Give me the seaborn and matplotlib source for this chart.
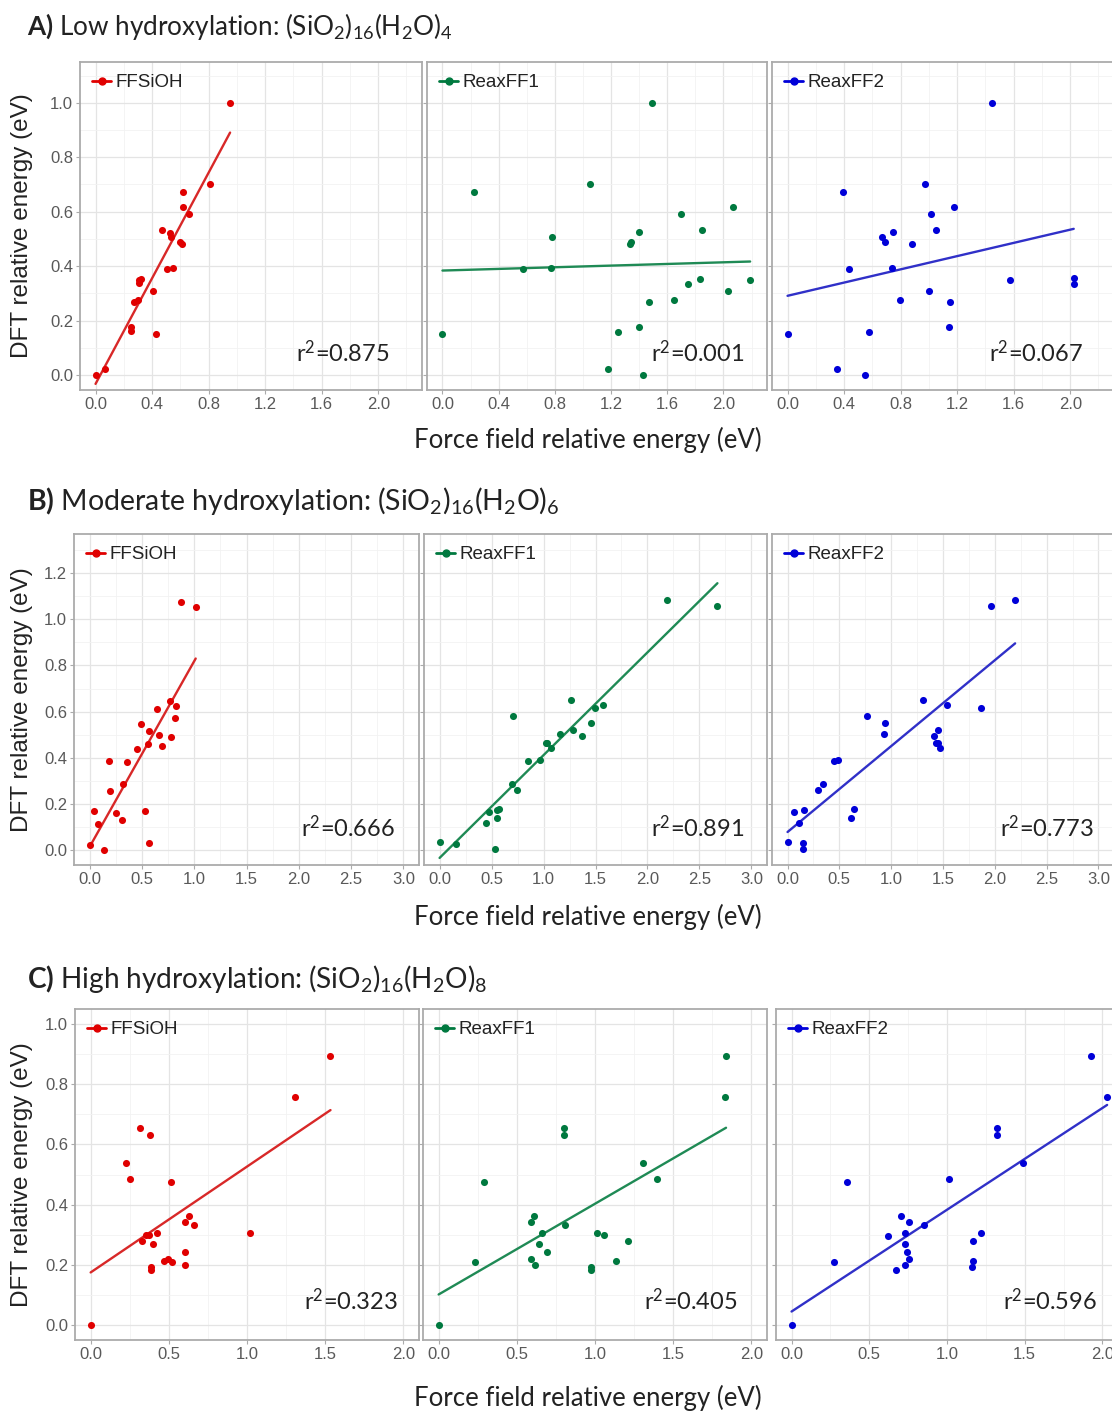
import numpy as np
import pandas as pd
import matplotlib
matplotlib.use("Agg")
import matplotlib.pyplot as plt
import seaborn as sns
from matplotlib.lines import Line2D
from matplotlib.ticker import AutoMinorLocator, FormatStrFormatter

# ---------------- data ----------------
methods = ["FFSiOH", "ReaxFF1", "ReaxFF2"]

# Row A: low hydroxylation
a_ffsioh_x = [0.0, 0.064, 0.25, 0.25, 0.27, 0.298, 0.31, 0.32, 0.305, 0.405, 0.43, 0.47, 0.505, 0.548,
              0.53, 0.536, 0.595, 0.612, 0.62, 0.62, 0.662, 0.81, 0.952]
a_ffsioh_y = [0.0, 0.022, 0.178, 0.16, 0.27, 0.276, 0.35, 0.352, 0.337, 0.309, 0.15, 0.534, 0.389, 0.393,
              0.521, 0.507, 0.487, 0.482, 0.674, 0.617, 0.591, 0.702, 1.0]
a_reax1_x = [0.0, 0.226, 0.573, 0.778, 0.774, 1.05, 1.18, 1.25, 1.335, 1.34, 1.40, 1.40, 1.43, 1.47, 1.49,
             1.65, 1.70, 1.75, 1.83, 1.85, 2.035, 2.07, 2.19]
a_reax1_y = [0.15, 0.674, 0.389, 0.507, 0.393, 0.702, 0.021, 0.157, 0.482, 0.488, 0.524, 0.175, 0.0, 0.27, 1.0,
             0.277, 0.59, 0.335, 0.353, 0.534, 0.308, 0.617, 0.348]
a_reax2_x = [0.0, 0.347, 0.394, 0.4375, 0.549, 0.579, 0.671, 0.69, 0.745, 0.738, 0.796, 0.88, 0.975, 1.0,
             1.016, 1.049, 1.139, 1.15, 1.176, 1.45, 1.576, 2.025, 2.025]
a_reax2_y = [0.15, 0.021, 0.674, 0.389, 0.0, 0.157, 0.507, 0.488, 0.524, 0.393, 0.277, 0.482, 0.702, 0.308,
             0.59, 0.534, 0.175, 0.269, 0.617, 1.0, 0.348, 0.355, 0.335]

# Row B: moderate hydroxylation
b_ffsioh_x = [0.0, 0.038, 0.076, 0.133, 0.184, 0.19, 0.253, 0.307, 0.323, 0.355, 0.45, 0.491, 0.529, 0.564,
              0.564, 0.561, 0.646, 0.659, 0.687, 0.773, 0.782, 0.814, 0.824, 0.877, 1.014]
b_ffsioh_y = [0.022, 0.169, 0.112, 0.0, 0.388, 0.255, 0.159, 0.131, 0.287, 0.382, 0.437, 0.548, 0.17, 0.515,
              0.029, 0.459, 0.61, 0.498, 0.453, 0.646, 0.488, 0.573, 0.625, 1.077, 1.053]
b_reax1_x = [0.0, 0.162, 0.449, 0.477, 0.535, 0.55, 0.55, 0.576, 0.694, 0.71, 0.748, 0.853, 0.97, 1.02,
             1.034, 1.075, 1.155, 1.266, 1.282, 1.371, 1.457, 1.499, 1.569, 2.189, 2.673]
b_reax1_y = [0.033, 0.027, 0.118, 0.166, 0.004, 0.137, 0.173, 0.176, 0.288, 0.58, 0.26, 0.388, 0.392, 0.462,
             0.466, 0.444, 0.502, 0.652, 0.522, 0.493, 0.552, 0.616, 0.627, 1.083, 1.059]
b_reax2_x = [0.0, 0.063, 0.114, 0.151, 0.151, 0.161, 0.297, 0.344, 0.451, 0.483, 0.615, 0.637, 0.77, 0.934,
             0.943, 1.309, 1.413, 1.448, 1.429, 1.454, 1.467, 1.539, 1.87, 1.959, 2.196]
b_reax2_y = [0.033, 0.163, 0.118, 0.029, 0.003, 0.173, 0.26, 0.288, 0.387, 0.392, 0.137, 0.176, 0.58, 0.502,
             0.552, 0.652, 0.493, 0.519, 0.462, 0.466, 0.444, 0.63, 0.616, 1.059, 1.083]

# Row C: high hydroxylation
c_ffsioh_x = [0.0, 0.228, 0.253, 0.316, 0.327, 0.352, 0.371, 0.38, 0.384, 0.384, 0.397, 0.426, 0.468, 0.496,
              0.517, 0.521, 0.601, 0.605, 0.605, 0.631, 0.658, 1.017, 1.308, 1.534]
c_ffsioh_y = [0.0, 0.537, 0.485, 0.656, 0.278, 0.298, 0.298, 0.632, 0.194, 0.183, 0.27, 0.305, 0.213, 0.22,
              0.476, 0.209, 0.341, 0.241, 0.198, 0.361, 0.333, 0.305, 0.756, 0.894]
c_reax1_x = [0.0, 0.234, 0.291, 0.589, 0.589, 0.611, 0.615, 0.645, 0.664, 0.691, 0.802, 0.802, 0.809, 0.972,
             0.977, 1.015, 1.055, 1.136, 1.213, 1.306, 1.394, 1.834, 1.838]
c_reax1_y = [0.0, 0.208, 0.476, 0.341, 0.22, 0.361, 0.198, 0.27, 0.305, 0.241, 0.656, 0.632, 0.333, 0.183,
             0.194, 0.305, 0.298, 0.213, 0.278, 0.537, 0.485, 0.756, 0.894]
c_reax2_x = [0.0, 0.275, 0.356, 0.618, 0.673, 0.707, 0.73, 0.73, 0.73, 0.745, 0.758, 0.758, 0.853, 1.014,
             1.158, 1.168, 1.17, 1.217, 1.321, 1.321, 1.492, 1.928, 2.03]
c_reax2_y = [0.0, 0.208, 0.476, 0.297, 0.183, 0.361, 0.305, 0.27, 0.198, 0.241, 0.341, 0.22, 0.333, 0.485,
             0.194, 0.213, 0.278, 0.305, 0.656, 0.632, 0.537, 0.894, 0.756]

r2_labels = [["0.875", "0.001", "0.067"],
             ["0.666", "0.891", "0.773"],
             ["0.323", "0.405", "0.596"]]

row_titles = [
    (r"$\mathbf{A)}$ Low hydroxylation:", r"$\mathregular{(SiO_2)_{16}(H_2O)_4}$"),
    (r"$\mathbf{B)}$ Moderate hydroxylation:", r"$\mathregular{(SiO_2)_{16}(H_2O)_6}$"),
    (r"$\mathbf{C)}$ High hydroxylation:", r"$\mathregular{(SiO_2)_{16}(H_2O)_8}$"),
]

xs = [[a_ffsioh_x, a_reax1_x, a_reax2_x],
      [b_ffsioh_x, b_reax1_x, b_reax2_x],
      [c_ffsioh_x, c_reax1_x, c_reax2_x]]
ys = [[a_ffsioh_y, a_reax1_y, a_reax2_y],
      [b_ffsioh_y, b_reax1_y, b_reax2_y],
      [c_ffsioh_y, c_reax1_y, c_reax2_y]]

# ---------------- style ----------------
sns.set_theme(style="white")
plt.rcParams["font.family"] = ["Liberation Sans", "DejaVu Sans"]
plt.rcParams["mathtext.fontset"] = "custom"
plt.rcParams["mathtext.rm"] = "Lato"
plt.rcParams["mathtext.bf"] = "Lato:bold"
plt.rcParams["mathtext.it"] = "Lato:italic"
plt.rcParams["mathtext.default"] = "regular"

point_colors = ["#e00000", "#00793f", "#0000d8"]
line_colors = ["#d82828", "#1f8a55", "#3030c8"]

W, H = 1112, 1412
fig = plt.figure(figsize=(W / 100, H / 100), dpi=100)

row_tb = [(62, 390), (534, 865), (1009, 1340)]
col_lr = [[(80, 422), (427, 767), (772, 1114)],
          [(74, 419), (424, 767), (772, 1114)],
          [(75, 419), (423, 767), (776, 1118)]]
xlims = [(-0.11, 2.31), (-0.15, 3.15), (-0.1, 2.1)]
ylims = [(-0.055, 1.15), (-0.065, 1.37), (-0.05, 1.05)]
xsteps = [0.4, 0.5, 0.5]
xmaxtick = [2.0, 3.0, 2.0]
ymaxtick = [1.0, 1.2, 1.0]
r2_pos = [[(0.905, 0.115), (0.935, 0.115), (0.91, 0.115)],
          [(0.93, 0.112), (0.935, 0.112), (0.94, 0.112)],
          [(0.94, 0.12), (0.915, 0.12), (0.94, 0.12)]]
title_y = [27, 501, 979]
title_size = [18.8, 20.5, 20.2]
xlabel_y = [440, 917, 1398]

for r in range(3):
    top, bot = row_tb[r]
    for c in range(3):
        l, rr = col_lr[r][c]
        ax = fig.add_axes([l / W, 1 - bot / H, (rr - l) / W, (bot - top) / H])
        ax.set_facecolor("white")
        df = pd.DataFrame({"ff": xs[r][c], "dft": ys[r][c]})
        sns.regplot(data=df, x="ff", y="dft", ax=ax, ci=None, truncate=True,
                    scatter_kws=dict(s=26, color=point_colors[c], linewidths=0, alpha=1, zorder=3),
                    line_kws=dict(color=line_colors[c], lw=1.7, zorder=2))
        ax.set_xlim(*xlims[r])
        ax.set_ylim(*ylims[r])
        ax.set_xticks(np.arange(0, xmaxtick[r] + 1e-9, xsteps[r]))
        ax.set_yticks(np.arange(0, ymaxtick[r] + 1e-9, 0.2))
        ax.xaxis.set_minor_locator(AutoMinorLocator(2))
        ax.yaxis.set_minor_locator(AutoMinorLocator(2))
        ax.xaxis.set_major_formatter(FormatStrFormatter("%.1f"))
        ax.yaxis.set_major_formatter(FormatStrFormatter("%.1f"))
        ax.grid(which="major", color="#e4e4e4", lw=0.9)
        ax.grid(which="minor", color="#f2f2f2", lw=0.6)
        ax.set_axisbelow(True)
        ax.set_xlabel("")
        ax.set_ylabel("")
        for s in ax.spines.values():
            s.set_color("#ababab")
            s.set_linewidth(1.3)
        ax.tick_params(axis="both", which="major", length=3, width=0.8, color="#ababab",
                       labelsize=12, labelcolor="#595959", pad=2, bottom=True, left=True)
        ax.tick_params(axis="both", which="minor", length=0)
        if c > 0:
            ax.tick_params(axis="y", labelleft=False)
        handle = Line2D([], [], color=point_colors[c], marker="o", markersize=5, lw=2)
        ax.legend(handles=[handle], labels=[methods[c]], loc="upper left", frameon=False,
                  fontsize=13.5, handlelength=1.0, handletextpad=0.25,
                  borderaxespad=0.35, borderpad=0.3, labelcolor="#222222")
        px, py = r2_pos[r][c]
        ax.text(px, py, r"$r^2$=" + r2_labels[r][c], transform=ax.transAxes,
                ha="right", va="center", fontsize=17, family="Lato", color="#222222")

    # row title
    t1 = fig.text(27 / W, 1 - title_y[r] / H, row_titles[r][0], fontsize=title_size[r], family="Lato",
                  va="center", ha="left", color="#222222")
    fig.canvas.draw()
    bb = t1.get_window_extent()
    fig.text((bb.x1 + 6) / W, 1 - title_y[r] / H, row_titles[r][1], fontsize=title_size[r], family="Lato",
             va="center", ha="left", color="#222222")
    # shared labels
    fig.text(588 / W, 1 - xlabel_y[r] / H, "Force field relative energy (eV)", fontsize=18.5,
             family="Lato", ha="center", va="center", color="#222222")
    fig.text(22 / W, 1 - ((top + bot) / 2) / H, "DFT relative energy (eV)", fontsize=17.5,
             rotation=90, ha="center", va="center", color="#222222")

fig.savefig("out.png", dpi=100)
